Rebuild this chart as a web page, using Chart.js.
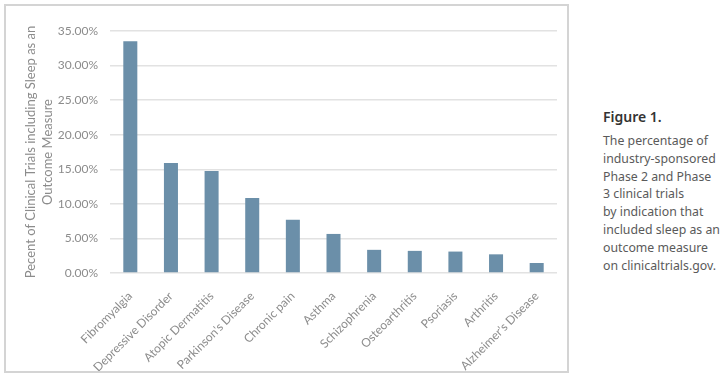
<!DOCTYPE html>
<html>
<head>
<meta charset="utf-8">
<script src="https://cdn.jsdelivr.net/npm/chart.js@4"></script>
<style>
  body { margin: 0; background: #fff; width: 720px; height: 376px; position: relative; overflow: hidden; }
  #box { position: absolute; left: 4px; top: 4px; width: 565px; height: 369px; border: 2px solid #d4d4d4; box-sizing: border-box; }
  #studyChart { position: absolute; left: 0; top: 0; }
  #caption { position: absolute; left: 603px; top: 108px; font-family: "Noto Sans", sans-serif; white-space: nowrap; }
  #caption h4 { margin: 0; font-size: 14px; line-height: 18px; font-weight: 600; color: #333; }
  #caption p { margin: 6px 0 0 0; font-size: 12.3px; line-height: 17.8px; color: #5a5a5a; }
</style>
</head>
<body>
<div id="box"><canvas id="studyChart" width="561" height="365"></canvas></div>
<div id="caption">
  <h4>Figure 1.</h4>
  <p>The percentage of<br>industry-sponsored<br>Phase 2 and Phase<br>3 clinical trials<br>by indication that<br>included sleep as an<br>outcome measure<br>on clinicaltrials.gov.</p>
</div>
<script>
// categorias e valores (percentual de estudos com sono como desfecho)
const indicacoes = ['Fibromyalgia', 'Depressive Disorder', 'Atopic Dermatitis', "Parkinson's Disease", 'Chronic pain',
  'Asthma', 'Schizophrenia', 'Osteoarthritis', 'Psoriasis', 'Arthritis', "Alzheimer's Disease"];
const percentuais = [33.5, 15.9, 14.75, 10.85, 7.7, 5.65, 3.35, 3.2, 3.1, 2.7, 1.45];
const tituloEixoY = ['Pecent of Clinical Trials including Sleep as an', 'Outcome Measure'];

const corTexto = '#8c8c8c';
const fonteEixo = { family: 'Lato', size: 12 };

const ctx = document.getElementById('studyChart').getContext('2d');

const chart = new Chart(ctx, {
  type: 'bar',
  data: {
    labels: indicacoes,
    datasets: [{
      data: percentuais,
      backgroundColor: '#6b8fa9',
      categoryPercentage: 1,
      barPercentage: 0.345
    }]
  },
  options: {
    responsive: false,
    animation: false,
    devicePixelRatio: 1,
    layout: { padding: { top: 25, right: 10, left: 0, bottom: 0 } },
    plugins: { legend: { display: false }, tooltip: { enabled: false } },
    scales: {
      x: {
        grid: { display: false },
        border: { display: false },
        ticks: { color: corTexto, font: fonteEixo, minRotation: 45, maxRotation: 45, autoSkip: false, padding: 8 },
        afterFit: s => { s.height = 98; }
      },
      y: {
        min: 0,
        max: 35,
        border: { display: false },
        grid: { color: '#e2e2e2', lineWidth: 1.5, drawTicks: false },
        ticks: { stepSize: 5, color: corTexto, font: fonteEixo, padding: 12, callback: v => v.toFixed(2) + '%' },
        title: {
          display: true,
          text: tituloEixoY,
          color: corTexto,
          font: { family: 'Lato', size: 13, lineHeight: 1.25 },
          padding: { top: 17, bottom: 0 }
        },
        afterFit: s => { s.width = 104; }
      }
    }
  }
});
</script>
</body>
</html>
